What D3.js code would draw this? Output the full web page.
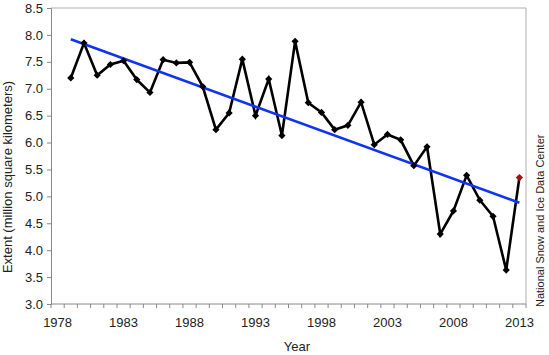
<!DOCTYPE html>
<html><head><meta charset="utf-8">
<script src="https://cdn.jsdelivr.net/npm/d3@7"></script>
<style>
html,body{margin:0;padding:0;background:#fff;}
svg{display:block;font-family:"Liberation Sans",Arial,sans-serif;}
</style></head><body>
<svg id="chart" width="549" height="355"></svg>
<script>
const categories = d3.range(1978, 2014);
const years = [1979,1980,1981,1982,1983,1984,1985,1986,1987,1988,1989,1990,1991,1992,1993,1994,1995,1996,1997,1998,1999,2000,2001,2002,2003,2004,2005,2006,2007,2008,2009,2010,2011,2012,2013];
const extent = [7.20,7.85,7.25,7.45,7.52,7.17,6.93,7.54,7.48,7.49,7.04,6.24,6.55,7.55,6.50,7.18,6.13,7.88,6.74,6.56,6.24,6.32,6.75,5.96,6.15,6.05,5.57,5.92,4.30,4.73,5.39,4.93,4.63,3.63,5.35];
const trendYears = [1979, 2013];
const trendValues = [7.92, 4.88];
const yTicks = [3.0,3.5,4.0,4.5,5.0,5.5,6.0,6.5,7.0,7.5,8.0,8.5];
const xTickLabels = [1978,1983,1988,1993,1998,2003,2008,2013];

const svg = d3.select("#chart");
const L = 51, R = 526, T = 8, B = 304;
const x = d3.scaleBand().domain(categories).range([L, R]);
const cx = yr => x(yr) + x.bandwidth()/2;
const y = d3.scaleLinear().domain([3, 8.5]).range([B, T]);

// plot border (top & right)
svg.append("path").attr("d", `M${L},${T}H${R}V${B}`).attr("fill","none").attr("stroke","#b0b0b0").attr("stroke-width",1);

// y axis
const yAxis = svg.append("g").attr("transform",`translate(${L},0)`)
  .call(d3.axisLeft(y).tickValues(yTicks).tickFormat(d3.format(".1f")).tickSize(4).tickPadding(4));
yAxis.select(".domain").attr("stroke","#888");
yAxis.selectAll(".tick line").attr("stroke","#888");
yAxis.selectAll("text").attr("font-size",13).attr("fill","#222").attr("font-family","Liberation Sans, Arial, sans-serif");

// x axis: ticks at category boundaries
const xAxisG = svg.append("g").attr("transform",`translate(0,${B})`);
xAxisG.append("line").attr("x1",L).attr("x2",R).attr("stroke","#888");
xAxisG.selectAll("line.tk").data(categories.concat([2014])).join("line").attr("class","tk")
  .attr("x1", d => d===2014 ? R : x(d)).attr("x2", d => d===2014 ? R : x(d))
  .attr("y1",0).attr("y2",4).attr("stroke","#888");
xAxisG.selectAll("text").data(xTickLabels).join("text")
  .attr("x", d => cx(d)).attr("y", 23).attr("text-anchor","middle")
  .attr("font-size",13).attr("fill","#222").text(d => d);

// data line
const line = d3.line().x((d,i) => cx(years[i])).y(d => y(d));
svg.append("path").datum(extent).attr("d", line).attr("fill","none")
  .attr("stroke","#000").attr("stroke-width",2.6).attr("stroke-linejoin","miter");

// trend line
svg.append("path").datum(trendValues)
  .attr("d", d3.line().x((d,i)=>cx(trendYears[i])).y(d=>y(d)))
  .attr("fill","none").attr("stroke","#1034f0").attr("stroke-width",2.6);

// markers (equal-sided diamonds)
const r = 3.6;
const diamondPath = `M0,${-r}L${r},0L0,${r}L${-r},0Z`;
svg.selectAll("path.mk").data(extent).join("path").attr("class","mk")
  .attr("d", diamondPath)
  .attr("transform",(d,i)=>`translate(${cx(years[i])},${y(d)})`)
  .attr("fill",(d,i)=> i===extent.length-1 ? "#a01010" : "#000");

// axis titles
svg.append("text").attr("transform",`translate(12,177) rotate(-90)`)
  .attr("text-anchor","middle").attr("font-size",13).attr("fill","#222")
  .text("Extent (million square kilometers)");
svg.append("text").attr("x",297).attr("y",351).attr("text-anchor","middle")
  .attr("font-size",13).attr("fill","#222").text("Year");
svg.append("text").attr("transform",`translate(544,307) rotate(-90)`)
  .attr("text-anchor","start").attr("font-size",11).attr("fill","#222")
  .text("National Snow and Ice Data Center");
</script>
</body></html>
